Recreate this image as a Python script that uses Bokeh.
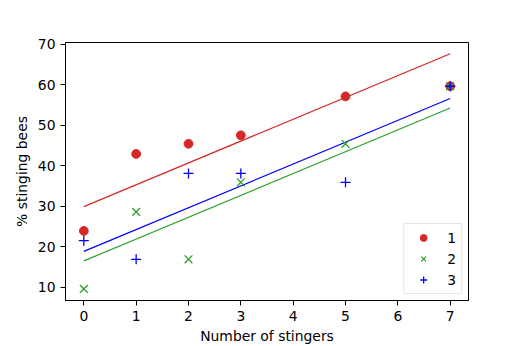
import numpy as np
from bokeh.plotting import figure
from bokeh.models import Range1d, FixedTicker
from bokeh.embed import file_html
from bokeh.resources import INLINE

# ---- data ----
stingers = [0, 1, 2, 3, 5, 7]
series_names = ["1", "2", "3"]
bees_1 = [23.9, 42.9, 45.4, 47.5, 57.1, 59.6]
bees_2 = [9.6, 28.6, 16.9, 35.9, 45.4, 59.6]
bees_3 = [21.5, 16.9, 38.1, 38.1, 35.9, 59.6]
x_ticks = [0, 1, 2, 3, 4, 5, 6, 7]
y_ticks = [10, 20, 30, 40, 50, 60, 70]

colors = ["#d62728", "#2ca02c", "#0000ff"]
markers = ["circle", "x", "cross"]
sizes = [8.8, 11, 10]
series = [bees_1, bees_2, bees_3]

# common-slope fit (parallel lines), one intercept per series
x = np.array(stingers, dtype=float)
xm = x.mean()
sxx = sum(((x - xm) ** 2).sum() for _ in series)
sxy = sum(((x - xm) * (np.array(s) - np.mean(s))).sum() for s in series)
slope = sxy / sxx
intercepts = [np.mean(s) - slope * xm for s in series]

FONT = "DejaVu Sans"
FS = "13.9px"

p = figure(width=520, height=346, output_backend="svg", toolbar_location=None,
           x_range=Range1d(-0.35, 7.35), y_range=Range1d(6.73, 70.4),
           min_border_left=65, min_border_right=52, min_border_top=42,
           min_border_bottom=43)
p.background_fill_color = "white"
p.border_fill_color = "white"
p.outline_line_color = "black"
p.outline_line_width = 1
p.xgrid.visible = False
p.ygrid.visible = False

xs_line = [min(stingers), max(stingers)]
for b, c in zip(intercepts, colors):
    p.line(xs_line, [b + slope * xs_line[0], b + slope * xs_line[1]],
           line_color=c, line_width=1.2)

for s, c, m, sz, n in zip(series, colors, markers, sizes, series_names):
    if m == "circle":
        p.scatter(stingers, s, marker=m, size=sz, fill_color=c, line_color=c,
                  legend_label=n)
    else:
        p.scatter(stingers, s, marker=m, size=sz, line_color=c, line_width=1.3,
                  legend_label=n)

for ax in (p.xaxis[0], p.yaxis[0]):
    ax.axis_line_color = "black"
    ax.major_tick_line_color = "black"
    ax.major_tick_out = 5
    ax.major_tick_in = 0
    ax.minor_tick_line_color = None
    ax.major_label_text_font = FONT
    ax.major_label_text_font_size = FS
    ax.major_label_text_color = "black"
    ax.axis_label_text_font = FONT
    ax.axis_label_text_font_size = FS
    ax.axis_label_text_font_style = "normal"
    ax.axis_label_text_color = "black"
    ax.major_label_standoff = 5

p.xaxis.ticker = FixedTicker(ticks=x_ticks)
p.yaxis.ticker = FixedTicker(ticks=y_ticks)
p.xaxis.axis_label = "Number of stingers"
p.yaxis.axis_label = "% stinging bees"
p.xaxis.axis_label_standoff = 4
p.yaxis.axis_label_standoff = 5

lg = p.legend[0]
lg.location = "bottom_right"
lg.margin = 6
lg.padding = 5
lg.spacing = 4
lg.glyph_height = 17
lg.glyph_width = 28
lg.label_height = 17
lg.label_width = 8
lg.label_standoff = 10
lg.label_text_font = FONT
lg.label_text_font_size = FS
lg.label_text_color = "black"
lg.border_line_color = "#cccccc"
lg.border_line_width = 1
lg.background_fill_alpha = 0.8

open("out.html", "w").write(file_html(p, INLINE))
